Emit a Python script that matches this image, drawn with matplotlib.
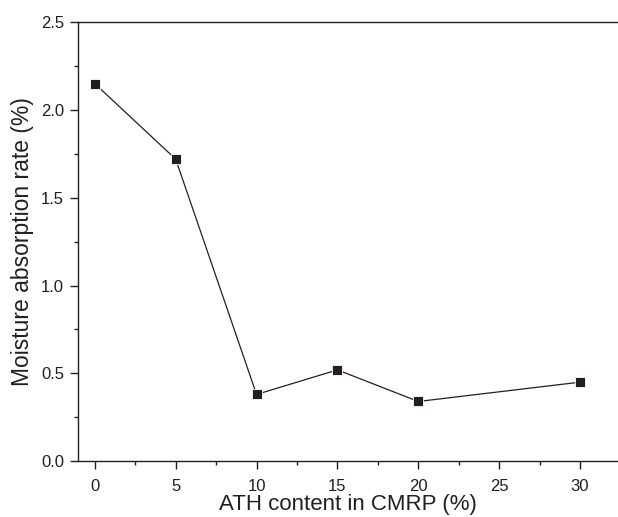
import numpy as np
import matplotlib.pyplot as plt
from matplotlib.ticker import MultipleLocator

plt.rcParams['font.family'] = ['Liberation Sans', 'DejaVu Sans']

ath_content = [0, 5, 10, 15, 20, 30]
absorption = [2.15, 1.72, 0.38, 0.52, 0.34, 0.45]

fig = plt.figure(figsize=(6.18, 5.17), dpi=100)
ax = fig.add_axes([0.126, 0.108, 0.874, 0.849])

ink = '#231f20'
ax.plot(ath_content, absorption, color=ink, lw=0.9, marker='s', ms=7.5,
        mfc=ink, mec='white', mew=0.6)

# 0 -> px 95, 30 -> px 580 with left edge at px 78, right at 618
ax.set_xlim(-1.05, 32.35)
ax.set_ylim(0, 2.5)
ax.xaxis.set_major_locator(MultipleLocator(5))
ax.xaxis.set_minor_locator(MultipleLocator(2.5))
ax.yaxis.set_major_locator(MultipleLocator(0.5))
ax.yaxis.set_minor_locator(MultipleLocator(0.25))
ax.yaxis.set_major_formatter(plt.FormatStrFormatter('%.1f'))

ax.spines['right'].set_visible(False)
for s in ax.spines.values():
    s.set_color(ink)
    s.set_linewidth(1.0)

ax.tick_params(which='both', direction='out', color=ink, width=1.0,
               labelsize=12, labelcolor=ink)
ax.tick_params(which='major', length=6)
ax.tick_params(which='minor', length=3)
ax.tick_params(axis='x', which='major', pad=7)
ax.tick_params(axis='y', which='major', pad=4)

ax.set_xlabel('ATH content in CMRP (%)', fontsize=16, color=ink, labelpad=0)
ax.set_ylabel('Moisture absorption rate (%)', fontsize=16.5, color=ink, labelpad=5)

fig.savefig('out.png', dpi=100)
